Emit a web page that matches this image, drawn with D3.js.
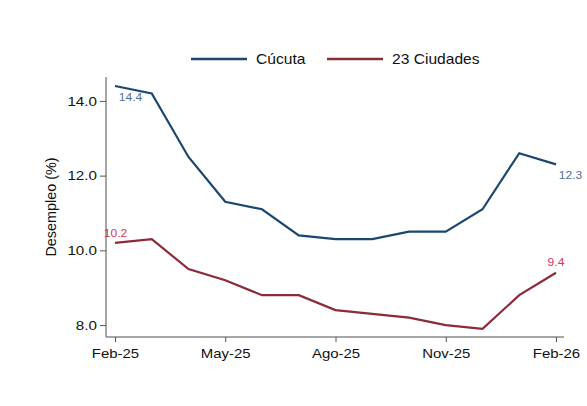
<!DOCTYPE html>
<html><head><meta charset="utf-8">
<script src="https://cdn.jsdelivr.net/npm/d3@7"></script>
<style>body{margin:0;background:#fff;} text{font-family:"Liberation Sans",Arial,sans-serif;}</style>
</head><body>
<svg id="c" width="587" height="406"></svg>
<script>
const months = ["Feb-25","Mar-25","Abr-25","May-25","Jun-25","Jul-25","Ago-25","Sep-25","Oct-25","Nov-25","Dic-25","Ene-26","Feb-26"];
const cucuta = [14.4,14.2,12.5,11.3,11.1,10.4,10.3,10.3,10.5,10.5,11.1,12.6,12.3];
const ciudades = [10.2,10.3,9.5,9.2,8.8,8.8,8.4,8.3,8.2,8.0,7.9,8.8,9.4];
const xTickLabels = ["Feb-25","May-25","Ago-25","Nov-25","Feb-26"];
const yTicks = [8.0,10.0,12.0,14.0];
const seriesNames = ["Cúcuta","23 Ciudades"];

const svg = d3.select("#c");
const blue = "#1b4670", red = "#8c2a36";
const blueLbl = "#4f6f95", redLbl = "#d8345f";

function stretch(sel, k){
  sel.each(function(){
    const w = this.getComputedTextLength();
    d3.select(this).attr("textLength", w*k).attr("lengthAdjust","spacingAndGlyphs");
  });
}

const x = d3.scalePoint().domain(months).range([115,556]);
const y = d3.scaleLinear().domain([7.68,14.64]).range([337,77]);

// axes
const yAxis = d3.axisLeft(y).tickValues(yTicks).tickFormat(d3.format(".1f")).tickSize(6).tickPadding(3);
const gy = svg.append("g").attr("transform","translate(106,0)").call(yAxis);
gy.select(".domain").attr("d","M0,77V337").attr("stroke","#888").attr("stroke-width",1.5);
gy.selectAll(".tick line").attr("stroke","#555");
gy.selectAll(".tick text").attr("font-size",13).attr("fill","#111").style("font-family","Liberation Sans, Arial");
stretch(gy.selectAll(".tick text"), 1.17);

const xAxis = d3.axisBottom(x).tickValues(xTickLabels).tickSize(5).tickPadding(7);
const gx = svg.append("g").attr("transform","translate(0,337)").call(xAxis);
gx.select(".domain").attr("d","M106,0H564").attr("stroke","#888").attr("stroke-width",1.5);
gx.selectAll(".tick line").attr("stroke","#555");
gx.selectAll(".tick text").attr("font-size",13).attr("fill","#111").style("font-family","Liberation Sans, Arial");
stretch(gx.selectAll(".tick text"), 1.15);

svg.append("text").attr("transform","translate(56,207) rotate(-90)").attr("text-anchor","middle")
  .attr("font-size",14.4).attr("fill","#111").text("Desempleo (%)");

const line = d3.line().x((d,i)=>x(months[i])).y(d=>y(d));
svg.append("path").datum(ciudades).attr("d",line).attr("fill","none").attr("stroke",red).attr("stroke-width",2.2);
svg.append("path").datum(cucuta).attr("d",line).attr("fill","none").attr("stroke",blue).attr("stroke-width",2.2);

// labels
const n = months.length-1;
const lbls = svg.append("g");
lbls.append("text").attr("x",x(months[0])+15.5).attr("y",y(cucuta[0])+15).attr("text-anchor","middle")
  .attr("font-size",11).attr("fill",blueLbl).text(cucuta[0].toFixed(1));
lbls.append("text").attr("x",x(months[n])+14.5).attr("y",y(cucuta[n])+14.5).attr("text-anchor","middle")
  .attr("font-size",11).attr("fill",blueLbl).text(cucuta[n].toFixed(1));
lbls.append("text").attr("x",x(months[0])+0.5).attr("y",y(ciudades[0])-5.5).attr("text-anchor","middle")
  .attr("font-size",11).attr("fill",redLbl).text(ciudades[0].toFixed(1));
lbls.append("text").attr("x",x(months[n])).attr("y",y(ciudades[n])-6.5).attr("text-anchor","middle")
  .attr("font-size",11).attr("fill",redLbl).text(ciudades[n].toFixed(1));
stretch(lbls.selectAll("text"), 1.1);

// legend
const leg = [{name:seriesNames[0],c:blue,x0:191},{name:seriesNames[1],c:red,x0:327}];
leg.forEach(l=>{
  svg.append("line").attr("x1",l.x0).attr("x2",l.x0+56).attr("y1",59).attr("y2",59).attr("stroke",l.c).attr("stroke-width",2.5);
  const t = svg.append("text").attr("x",l.x0+65).attr("y",64).attr("font-size",15).attr("fill","#111").text(l.name);
  stretch(t, 1.04);
});
</script>
</body></html>
